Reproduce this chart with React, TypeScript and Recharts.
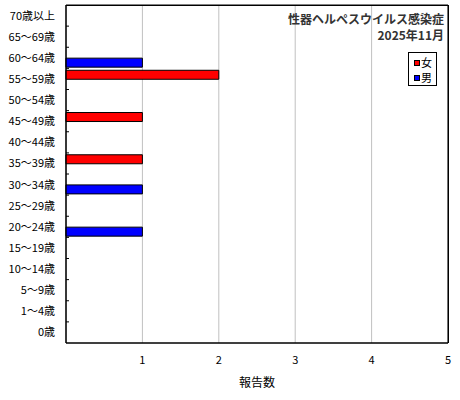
import { BarChart, Bar, XAxis, YAxis, CartesianGrid, ReferenceArea, Label } from "recharts";

const ageGroups = [
  "70歳以上", "65～69歳", "60～64歳", "55～59歳", "50～54歳", "45～49歳",
  "40～44歳", "35～39歳", "30～34歳", "25～29歳", "20～24歳", "15～19歳",
  "10～14歳", "5～9歳", "1～4歳", "0歳",
];
const female = [0, 0, 0, 2, 0, 1, 0, 1, 0, 0, 0, 0, 0, 0, 0, 0];
const male = [0, 0, 1, 0, 0, 0, 0, 0, 1, 0, 1, 0, 0, 0, 0, 0];
const xTicks = [1, 2, 3, 4, 5];
const xMax = 5;
const title = "性器ヘルペスウイルス感染症";
const period = "2025年11月";
const legendItems = [
  { name: "女", color: "#ff0000" },
  { name: "男", color: "#0000ff" },
];

const data = ageGroups.map((age, i) => ({ age, female: female[i], male: male[i] }));

const FONT = "'Noto Sans CJK JP', sans-serif";

const AgeTick = (props: any) => {
  const { x, y, payload } = props;
  const half = payload && payload.offset ? payload.offset : 10.5;
  return (
    <g>
      <text x={x - 11} y={y} dy={4} textAnchor="end" fontSize={11} fill="#000" fontFamily={FONT}>
        {payload.value}
      </text>
      {payload.index !== 0 && <line x1={x} x2={x + 3} y1={y - half} y2={y - half} stroke="#000" />}
    </g>
  );
};

export default function App() {
  return (
    <div style={{ position: "absolute", left: 0, top: 0, width: 460, height: 400, background: "#fff" }}>
      <BarChart
        width={460}
        height={400}
        data={data}
        layout="vertical"
        margin={{ top: 5, right: 12, left: 0, bottom: 0 }}
        barCategoryGap="9%"
        barGap={0}
      >
        <CartesianGrid horizontal={false} stroke="#c0c0c0" />
        <XAxis
          type="number"
          domain={[0, xMax]}
          ticks={xTicks}
          height={57}
          tickLine={false}
          tickMargin={7}
          axisLine={{ stroke: "#000" }}
          tick={{ fontSize: 11, fill: "#000", fontFamily: FONT }}
        >
          <Label value="報告数" position="insideBottom" offset={13} fontSize={12} fill="#000" fontFamily={FONT} />
        </XAxis>
        <YAxis
          type="category"
          dataKey="age"
          width={66}
          tickLine={false}
          tickSize={0}
          tickMargin={0}
          axisLine={{ stroke: "#000" }}
          tick={<AgeTick />}
          interval={0}
        />
        <ReferenceArea
          x1={0}
          x2={xMax}
          y1={ageGroups[0]}
          y2={ageGroups[ageGroups.length - 1]}
          fill="#fff"
          fillOpacity={0}
          stroke="#000"
          strokeWidth={1}
        />
        <Bar dataKey="female" name="女" fill="#ff0000" stroke="#000" strokeWidth={1} isAnimationActive={false} />
        <Bar dataKey="male" name="男" fill="#0000ff" stroke="#000" strokeWidth={1} isAnimationActive={false} />
      </BarChart>
      {/* plot frame (top / right edges) */}
      <div
        style={{
          position: "absolute",
          left: 66,
          top: 5,
          width: 383,
          height: 338,
          boxSizing: "border-box",
          borderTop: "1px solid #000",
          borderRight: "1px solid #000",
          pointerEvents: "none",
        }}
      />
      <div
        style={{
          position: "absolute",
          right: 16,
          top: 11,
          textAlign: "right",
          fontFamily: FONT,
          fontWeight: "bold",
          fontSize: 12,
          lineHeight: "16px",
          color: "#333",
        }}
      >
        <div>{title}</div>
        <div>{period}</div>
      </div>
      <div
        style={{
          position: "absolute",
          left: 408,
          top: 52,
          border: "1px solid #000",
          background: "#fff",
          width: 29,
          height: 34,
          fontSize: 11,
          fontFamily: FONT,
          boxSizing: "border-box",
          padding: "2px 0 0 5px",
          lineHeight: "15px",
        }}
      >
        {legendItems.map((item) => (
          <div key={item.name} style={{ display: "flex", alignItems: "center" }}>
            <span style={{ width: 4, height: 4, background: item.color, border: "1px solid #000", marginRight: 1 }} />
            {item.name}
          </div>
        ))}
      </div>
    </div>
  );
}
